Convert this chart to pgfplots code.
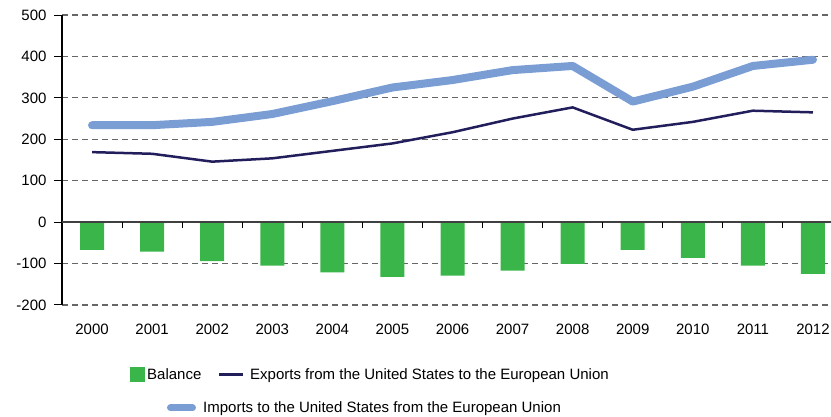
\documentclass[border=0pt]{standalone}
\usepackage{fontspec}
\setmainfont{Liberation Sans}
\usepackage{pgfplots}
\usepackage{pgfplotstable}
\pgfplotsset{compat=1.18}

\definecolor{balgreen}{RGB}{58,181,74}
\definecolor{expnavy}{RGB}{34,30,92}
\definecolor{impblue}{RGB}{122,158,212}

% US-EU trade, values
\pgfplotstableread{
x  year  bal   exp  imp
0  2000  -67   169  234
1  2001  -71   165  234
2  2002  -94   146  242
3  2003  -105  154  261
4  2004  -121  172  292
5  2005  -132  190  325
6  2006  -129  217  343
7  2007  -117  250  367
8  2008  -101  277  377
9  2009  -67   223  291
10 2010  -86   242  327
11 2011  -105  269  377
12 2012  -125  265  392
}\tradedata

\begin{document}
\begin{tikzpicture}[x=1pt,y=1pt]
\useasboundingbox (-62,-112) rectangle (769,305);
\begin{axis}[
    at={(0,0)}, anchor=south west,
    scale only axis,
    width=769pt, height=290pt,
    xmin=-0.5, xmax=12.3,
    ymin=-200, ymax=500,
    axis x line*=bottom,
    axis y line*=left,
    x axis line style={draw=none},
    y axis line style={black, line width=1.3pt},
    xtick={0,1,2,3,4,5,6,7,8,9,10,11,12},
    xticklabels={2000,2001,2002,2003,2004,2005,2006,2007,2008,2009,2010,2011,2012},
    xtick style={draw=none},
    ytick={-200,-100,0,100,200,300,400,500},
    yticklabels={-200,-100,0,100,200,300,400,500},
    ytick style={black, line width=1pt},
    tick align=outside,
    major tick length=8pt,
    ymajorgrids,
    grid style={black!60, line width=1.1pt, dash pattern=on 6pt off 4pt},
    tick label style={font=\fontsize{15}{17}\selectfont},
    yticklabel style={xshift=-4pt},
    xticklabel style={yshift=-7pt},
    clip=false,
]
\addplot [ybar, bar width=24pt, fill=balgreen, draw=none] table [x=x, y=bal] {\tradedata};
\addplot [black!75, line width=1.4pt, forget plot] coordinates {(-0.5,0) (12.3,0)};
\pgfplotsinvokeforeach{0.5,1.5,2.5,3.5,4.5,5.5,6.5,7.5,8.5,9.5,10.5,11.5}{
    \draw [black, line width=1pt] (axis cs:#1,0) -- ++(0pt,-6pt);
}
\addplot [impblue, line width=8pt, line cap=round, line join=round] table [x=x, y=imp] {\tradedata};
\addplot [expnavy, line width=2.5pt, line join=round] table [x=x, y=exp] {\tradedata};
\end{axis}

% legend
\fill [balgreen] (68,-77.5) rectangle (83,-62.5);
\node [anchor=base west, inner sep=0, font=\fontsize{15}{17}\selectfont] at (85,-75) {Balance};
\draw [expnavy, line width=2.5pt] (157,-69.5) -- (181,-69.5);
\node [anchor=base west, inner sep=0, font=\fontsize{15}{17}\selectfont] at (188,-75) {Exports from the United States to the European Union};
\draw [impblue, line width=7pt, line cap=round] (108.5,-103) -- (130.5,-103);
\node [anchor=base west, inner sep=0, font=\fontsize{15}{17}\selectfont] at (141,-108) {Imports to the United States from the European Union};
\end{tikzpicture}
\end{document}
